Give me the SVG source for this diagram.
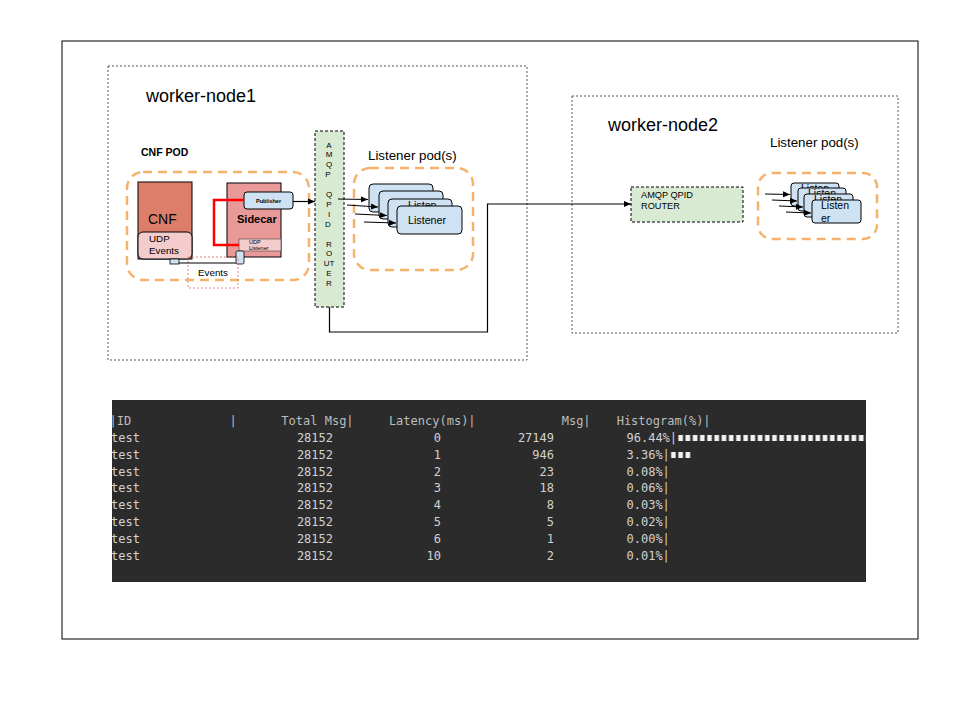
<svg xmlns="http://www.w3.org/2000/svg" width="960" height="720" viewBox="0 0 960 720">
<style>
text{font-family:"Liberation Sans",Arial,sans-serif;fill:#000}
.node{stroke:#555;stroke-width:1;stroke-dasharray:2 2;fill:none}
.pod{fill:none;stroke:#f6b26b;stroke-width:2.5;stroke-dasharray:9 6}
.lst{fill:#cfe2f3;stroke:#000;stroke-width:1}
.rt{fill:#d9ead3;stroke:#000;stroke-width:1;stroke-dasharray:3 2}
.conn{fill:none;stroke:#000;stroke-width:1.2}
.mono{font-family:"DejaVu Sans Mono","Liberation Mono",monospace;font-size:12px;fill:#d2d2d2}
.hdr{fill:#bcbcbc}
.e{text-anchor:end}
</style>
<defs>
<marker id="arr" markerWidth="8" markerHeight="8" refX="7" refY="4" orient="auto" markerUnits="userSpaceOnUse">
<path d="M0,1 L7,4 L0,7 z" fill="#000"/>
</marker>
<pattern id="blk" patternUnits="userSpaceOnUse" x="626.5" y="0" width="7.22" height="10">
<rect x="1.3" y="0" width="4.6" height="10" fill="#f2f2f2"/>
</pattern>
</defs>

<rect x="62" y="41" width="856" height="598" fill="#fff" stroke="#000" stroke-width="1"/>

<g id="worker-node1">
<rect class="node" x="108" y="66" width="419" height="294"/>
<text x="146" y="102" font-size="18">worker-node1</text>
</g>
<g id="worker-node2">
<rect class="node" x="572" y="96" width="326" height="237"/>
<text x="608" y="131" font-size="18">worker-node2</text>
</g>

<g id="cnf-pod">
<text x="141" y="156" font-size="10.5" font-weight="bold">CNF POD</text>
<rect class="pod" x="127" y="172" width="182" height="108" rx="16"/>
</g>

<g id="cnf">
<rect x="138" y="182" width="54" height="77" fill="#dd7e6b" stroke="#000"/>
<text x="148" y="224" font-size="14">CNF</text>
<rect x="138" y="232" width="54" height="27" rx="5" fill="#f4cccc" stroke="#000"/>
<text x="149" y="242" font-size="9.8">UDP</text>
<text x="149" y="254" font-size="9.8">Events</text>
<rect x="170" y="259" width="9" height="5" fill="#cfe2f3" stroke="#000" stroke-width="0.8"/>
</g>

<g id="sidecar">
<rect x="227" y="183" width="54" height="74" fill="#ea9999" stroke="#000"/>
<text x="237" y="223" font-size="11" font-weight="bold">Sidecar</text>
</g>

<g id="publisher">
<rect class="lst" x="244" y="192" width="49" height="17" rx="3"/>
<text x="268.5" y="203" font-size="5.5" font-weight="bold" text-anchor="middle">Publisher</text>
</g>

<g id="udp-listener">
<rect x="239" y="239" width="42" height="12" fill="#f4cccc" stroke="#444" stroke-width="0.6"/>
<text x="249" y="244" font-size="5.5" fill="#444">UDP</text>
<text x="249" y="250" font-size="5.5" fill="#444">Listener</text>
<rect x="236" y="251" width="8" height="13" rx="1.5" fill="#cfe2f3" stroke="#000" stroke-width="0.8"/>
</g>

<g id="events">
<rect x="188" y="257" width="50" height="31" fill="none" stroke="#e06666" stroke-width="0.8" stroke-dasharray="2 2"/>
<text x="198" y="276" font-size="9.8">Events</text>
</g>

<g id="amqp-router-1">
<rect class="rt" x="315" y="131" width="29" height="176"/>
<text x="329" y="147.5" font-size="8" text-anchor="middle">
<tspan x="329" y="147.5">A</tspan><tspan x="329" y="157.4">M</tspan><tspan x="329" y="167.3">Q</tspan><tspan x="329" y="177.2">P</tspan>
<tspan x="329" y="197">Q</tspan><tspan x="329" y="206.9">P</tspan><tspan x="329" y="216.8">I</tspan><tspan x="329" y="226.7">D</tspan>
<tspan x="329" y="246.5">R</tspan><tspan x="329" y="256.4">O</tspan><tspan x="329" y="266.3">UT</tspan><tspan x="329" y="276.2">E</tspan><tspan x="329" y="286.1">R</tspan>
</text>
</g>

<g id="listener-pod-1">
<text x="368" y="160" font-size="13.3">Listener pod(s)</text>
<rect class="pod" x="354" y="168" width="119" height="102" rx="16"/>
<rect class="lst" x="369" y="184" width="64" height="28" rx="4"/>
<rect class="lst" x="379" y="191" width="64" height="28" rx="4"/>
<rect class="lst" x="388" y="199" width="64" height="28" rx="4"/>
<text x="408" y="209" font-size="10.7">Listen</text>
<rect class="lst" x="397" y="206" width="65" height="28" rx="4"/>
<text x="408" y="224" font-size="10.7">Listener</text>
</g>

<g id="amqp-router-2">
<rect class="rt" x="631" y="187" width="112" height="35"/>
<text x="641" y="198" font-size="9.2">AMQP QPID</text>
<text x="641" y="209" font-size="9.2">ROUTER</text>
</g>

<g id="listener-pod-2">
<text x="770" y="147" font-size="13.3">Listener pod(s)</text>
<rect class="pod" x="758" y="173" width="119" height="66" rx="14"/>
<rect class="lst" x="791" y="183" width="48" height="23" rx="3"/>
<text x="801" y="192" font-size="10.5">Listen</text>
<rect class="lst" x="798" y="188" width="48" height="23" rx="3"/>
<text x="808" y="197" font-size="10.5">Listen</text>
<rect class="lst" x="804" y="194" width="49" height="23" rx="3"/>
<text x="814" y="203" font-size="10.5">Listen</text>
<rect class="lst" x="812" y="200" width="49" height="23" rx="3"/>
<text x="821" y="209" font-size="10.5">Listen</text>
<text x="821" y="222" font-size="10.5">er</text>
</g>

<g id="connectors">
<polyline points="244,200 214,200 214,245 239,245" fill="none" stroke="#ff0000" stroke-width="2.5"/>
<line x1="179" y1="263" x2="236" y2="263" stroke="#000" stroke-width="1.2"/>
<line class="conn" x1="293" y1="201.5" x2="315" y2="201.5" marker-end="url(#arr)"/>
<line class="conn" x1="338" y1="199" x2="368" y2="199.5" marker-end="url(#arr)"/>
<line class="conn" x1="347" y1="205" x2="378" y2="207" marker-end="url(#arr)"/>
<line class="conn" x1="355" y1="214" x2="387" y2="215.5" marker-end="url(#arr)"/>
<line class="conn" x1="364" y1="222" x2="396" y2="223" marker-end="url(#arr)"/>
<polyline class="conn" points="329.5,307 329.5,332 487.5,332 487.5,204 631,204" marker-end="url(#arr)"/>
<line class="conn" x1="765" y1="194" x2="790" y2="194.5" marker-end="url(#arr)"/>
<line class="conn" x1="772" y1="200" x2="797" y2="201" marker-end="url(#arr)"/>
<line class="conn" x1="779" y1="206" x2="803" y2="207" marker-end="url(#arr)"/>
<line class="conn" x1="786" y1="212" x2="811" y2="213" marker-end="url(#arr)"/>
</g>

<g id="latency-table">
<rect x="112" y="400" width="754" height="182" fill="#2b2b2b"/>
<text class="mono hdr" x="109.5" y="425">|ID</text>
<text class="mono hdr" x="229.5" y="425">|</text>
<text class="mono hdr e" x="353.6" y="425">Total Msg|</text>
<text class="mono hdr e" x="475.6" y="425">Latency(ms)|</text>
<text class="mono hdr e" x="590.6" y="425">Msg|</text>
<text class="mono hdr e" x="710.6" y="425">Histogram(%)|</text>

<text class="mono" x="111" y="442">test</text><text class="mono e" x="333" y="442">28152</text><text class="mono e" x="441" y="442">0</text><text class="mono e" x="554" y="442">27149</text><text class="mono" x="626.5" y="442">96.44%|</text>
<rect x="677" y="435" width="189" height="6" fill="url(#blk)"/>
<text class="mono" x="111" y="458.8">test</text><text class="mono e" x="333" y="458.8">28152</text><text class="mono e" x="441" y="458.8">1</text><text class="mono e" x="554" y="458.8">946</text><text class="mono" x="626.5" y="458.8">3.36%|</text>
<rect x="669.8" y="452" width="21.66" height="6" fill="url(#blk)"/>
<text class="mono" x="111" y="475.6">test</text><text class="mono e" x="333" y="475.6">28152</text><text class="mono e" x="441" y="475.6">2</text><text class="mono e" x="554" y="475.6">23</text><text class="mono" x="626.5" y="475.6">0.08%|</text>
<text class="mono" x="111" y="492.4">test</text><text class="mono e" x="333" y="492.4">28152</text><text class="mono e" x="441" y="492.4">3</text><text class="mono e" x="554" y="492.4">18</text><text class="mono" x="626.5" y="492.4">0.06%|</text>
<text class="mono" x="111" y="509.2">test</text><text class="mono e" x="333" y="509.2">28152</text><text class="mono e" x="441" y="509.2">4</text><text class="mono e" x="554" y="509.2">8</text><text class="mono" x="626.5" y="509.2">0.03%|</text>
<text class="mono" x="111" y="526">test</text><text class="mono e" x="333" y="526">28152</text><text class="mono e" x="441" y="526">5</text><text class="mono e" x="554" y="526">5</text><text class="mono" x="626.5" y="526">0.02%|</text>
<text class="mono" x="111" y="542.8">test</text><text class="mono e" x="333" y="542.8">28152</text><text class="mono e" x="441" y="542.8">6</text><text class="mono e" x="554" y="542.8">1</text><text class="mono" x="626.5" y="542.8">0.00%|</text>
<text class="mono" x="111" y="559.6">test</text><text class="mono e" x="333" y="559.6">28152</text><text class="mono e" x="441" y="559.6">10</text><text class="mono e" x="554" y="559.6">2</text><text class="mono" x="626.5" y="559.6">0.01%|</text>
</g>
</svg>
